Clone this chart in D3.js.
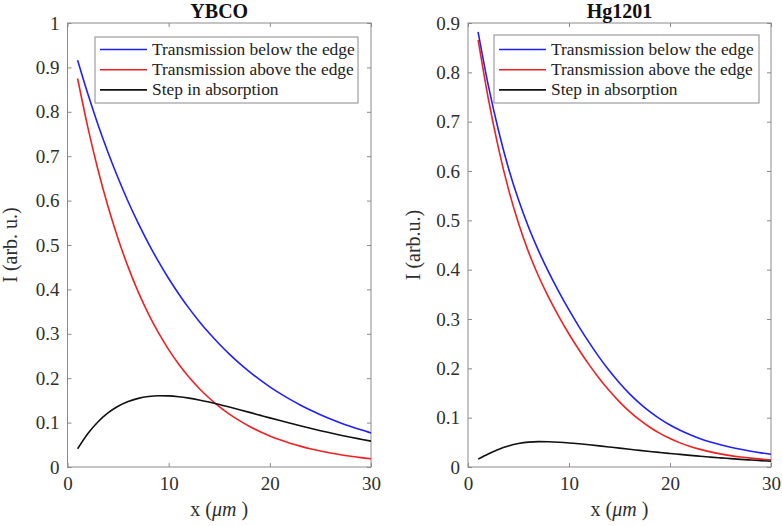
<!DOCTYPE html>
<html><head><meta charset="utf-8">
<script src="https://cdn.jsdelivr.net/npm/d3@7"></script>
<style>
body{margin:0;background:#fff;}
svg{display:block;font-family:"Liberation Serif","Times New Roman",serif;}
</style></head>
<body><svg id="c" width="782" height="526"></svg>
<script>
const xs = [1,2,3,4,5,6,7,8,9,10,11,12,13,14,15,16,17,18,19,20,21,22,23,24,25,26,27,28,29,30];

const ybcoBelow = [0.9160,0.8410,0.7721,0.7089,0.6508,0.5975,0.5486,0.5037,0.4624,0.4245,0.3898,0.3578,0.3285,0.3016,0.2769,0.2542,0.2334,0.2143,0.1967,0.1806,0.1658,0.1522,0.1398,0.1283,0.1178,0.1082,0.0993,0.0912,0.0837,0.0768];
const ybcoAbove = [0.8750,0.7661,0.6707,0.5872,0.5141,0.4501,0.3940,0.3450,0.3020,0.2644,0.2315,0.2027,0.1775,0.1554,0.1360,0.1191,0.1043,0.0913,0.0799,0.0700,0.0613,0.0536,0.0470,0.0411,0.0360,0.0315,0.0276,0.0242,0.0211,0.0185];
const ybcoStep  = [0.0410,0.0749,0.1014,0.1217,0.1367,0.1474,0.1546,0.1587,0.1604,0.1601,0.1583,0.1551,0.1510,0.1462,0.1409,0.1351,0.1291,0.1230,0.1168,0.1106,0.1045,0.0986,0.0928,0.0872,0.0818,0.0767,0.0717,0.0670,0.0626,0.0583];

const hgBelow = [0.8820,0.7745,0.6835,0.6062,0.5415,0.4860,0.4376,0.3944,0.3551,0.3184,0.2841,0.2520,0.2222,0.1949,0.1703,0.1483,0.1290,0.1121,0.0976,0.0851,0.0744,0.0653,0.0575,0.0508,0.0451,0.0401,0.0358,0.0320,0.0287,0.0258];
const hgAbove = [0.8660,0.7480,0.6480,0.5637,0.4940,0.4355,0.3861,0.3432,0.3049,0.2696,0.2371,0.2070,0.1794,0.1544,0.1321,0.1124,0.0953,0.0806,0.0682,0.0577,0.0489,0.0417,0.0357,0.0307,0.0266,0.0231,0.0203,0.0179,0.0159,0.0142];
const hgStep  = [0.0160,0.0265,0.0355,0.0425,0.0475,0.0505,0.0515,0.0512,0.0502,0.0488,0.0470,0.0450,0.0428,0.0405,0.0382,0.0359,0.0337,0.0315,0.0294,0.0274,0.0255,0.0236,0.0218,0.0201,0.0185,0.0170,0.0155,0.0141,0.0128,0.0116];

const xTicks = [0,10,20,30];
const ybcoYTicks = [0,0.1,0.2,0.3,0.4,0.5,0.6,0.7,0.8,0.9,1];
const hgYTicks = [0,0.1,0.2,0.3,0.4,0.5,0.6,0.7,0.8,0.9];
const seriesNames = ["Transmission below the edge","Transmission above the edge","Step in absorption"];
const seriesColors = ["#1f1fff","#f02020","#111111"];

const svg = d3.select("#c");

function panel(o){
  const g = svg.append("g");
  const x = d3.scaleLinear().domain([0,30]).range([o.x0,o.x1]);
  const y = d3.scaleLinear().domain([0,o.ymax]).range([467,23]);
  const axisCol = "#8a8a8a", textCol = "#2e2e2e";
  g.append("rect").attr("x",o.x0).attr("y",23).attr("width",o.x1-o.x0).attr("height",444)
    .attr("fill","none").attr("stroke",axisCol).attr("stroke-width",1);
  const styleAxis = (sel, showText)=>{
    sel.select(".domain").remove();
    sel.selectAll(".tick line").attr("stroke",axisCol);
    sel.selectAll(".tick text").attr("fill",textCol).style("font-size","19px")
      .style("font-family","'Liberation Serif',serif");
    if(!showText) sel.selectAll(".tick text").remove();
  };
  g.append("g").attr("transform",`translate(0,467)`)
    .call(d3.axisBottom(x).tickValues(xTicks).tickFormat(d3.format("d")).tickSize(-4).tickPadding(10))
    .call(s=>styleAxis(s,true));
  g.append("g").attr("transform",`translate(0,23)`)
    .call(d3.axisTop(x).tickValues(xTicks).tickSize(-4))
    .call(s=>styleAxis(s,false));
  g.append("g").attr("transform",`translate(${o.x0},0)`)
    .call(d3.axisLeft(y).tickValues(o.yTicks).tickFormat(d=>d===0?"0":(d===1?"1":d3.format(".1f")(d))).tickSize(-4).tickPadding(8))
    .call(s=>styleAxis(s,true));
  g.append("g").attr("transform",`translate(${o.x1},0)`)
    .call(d3.axisRight(y).tickValues(o.yTicks).tickSize(-4))
    .call(s=>styleAxis(s,false));

  const line = d3.line().x((d,i)=>x(xs[i])).y(d=>y(d)).curve(d3.curveMonotoneX);
  o.series.forEach((s,i)=>{
    g.append("path").datum(s).attr("d",line).attr("fill","none")
      .attr("stroke",seriesColors[i]).attr("stroke-width",1.6);
  });

  g.append("text").attr("x",(o.x0+o.x1)/2).attr("y",18).attr("text-anchor","middle")
    .style("font-size","20px").style("font-weight","bold").attr("fill","#111").text(o.title);
  const xl = g.append("text").attr("x",(o.x0+o.x1)/2).attr("y",516).attr("text-anchor","middle")
    .style("font-size","20px").attr("fill",textCol);
  xl.append("tspan").text("x (");
  xl.append("tspan").style("font-style","italic").text("\u03bcm");
  xl.append("tspan").text(" )");
  g.append("text").attr("transform",`translate(${o.ylx},245) rotate(-90)`).attr("text-anchor","middle")
    .style("font-size","20px").attr("fill",textCol).text(o.ylabel);

  const lg = g.append("g");
  lg.append("rect").attr("x",o.lx).attr("y",o.ly).attr("width",o.lw).attr("height",o.lh)
    .attr("fill","#fff").attr("stroke",axisCol).attr("stroke-width",1);
  seriesNames.forEach((n,i)=>{
    const yy = o.ly + o.lr0 + i*20.2;
    lg.append("line").attr("x1",o.lx+5).attr("x2",o.lx+52).attr("y1",yy).attr("y2",yy)
      .attr("stroke",seriesColors[i]).attr("stroke-width",1.6);
    lg.append("text").attr("x",o.lx+57).attr("y",yy+5.5).style("font-size","17.4px").attr("fill","#222").text(n);
  });
}

panel({x0:67.5,x1:371,ymax:1,yTicks:ybcoYTicks,series:[ybcoBelow,ybcoAbove,ybcoStep],
  title:"YBCO",ylabel:"I (arb. u.)",ylx:17,lx:95,ly:37,lw:263,lh:66,lr0:12.5});
panel({x0:468,x1:771,ymax:0.9,yTicks:hgYTicks,series:[hgBelow,hgAbove,hgStep],
  title:"Hg1201",ylabel:"I (arb.u.)",ylx:420,lx:494,ly:35,lw:265,lh:68,lr0:14.5});
</script></body></html>
